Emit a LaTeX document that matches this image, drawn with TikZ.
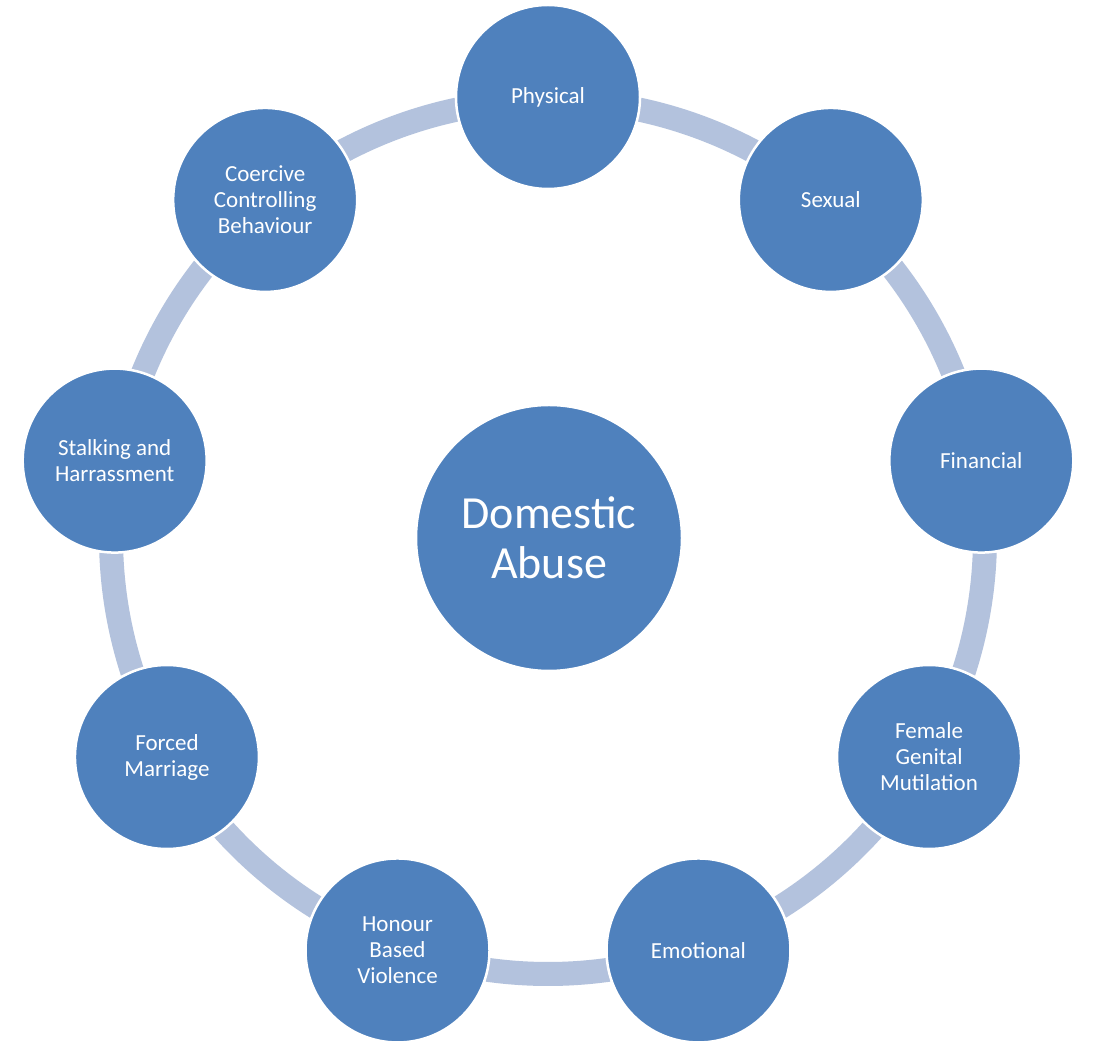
\documentclass[tikz,border=0pt]{standalone}
\usepackage{fontspec}
\setmainfont{Carlito}
\definecolor{blu}{HTML}{4F81BD}
\definecolor{connc}{RGB}{179,194,221}
\begin{document}
\begin{tikzpicture}[x=1pt,y=1pt,
  item/.style={circle,fill=blu,draw=white,line width=2.5pt,minimum size=184pt,inner sep=0pt,
    text=white,align=center,font=\fontsize{23}{26}\selectfont},
  hub/.style={circle,fill=blu,draw=white,line width=2.5pt,minimum size=266pt,inner sep=0pt,
    text=white,align=center,font=\fontsize{46}{50}\selectfont},
  link/.style={draw=connc,line width=24pt,preaction={draw=white,line width=27pt}}]
\useasboundingbox (0,0) rectangle (1100,1055);
\coordinate (o) at (548,518);
\foreach \a in {90,50,...,-230}
  \draw[link] ([shift={(\a-12:437)}]o) arc[start angle=\a-12, end angle=\a-28, radius=437];
\node[hub] (c) at (549,517) {Domestic\\Abuse};
\node[item] (phys) at ([shift={(90:440)}]o) {Physical};
\node[item] (sex) at ([shift={(50:440)}]o) {Sexual};
\node[item] (fin) at ([shift={(10:440)}]o) {Financial};
\node[item] (fgm) at ([shift={(-30:440)}]o) {Female\\Genital\\Mutilation};
\node[item] (emo) at ([shift={(-70:440)}]o) {Emotional};
\node[item] (hbv) at ([shift={(-110:440)}]o) {Honour\\Based\\Violence};
\node[item] (fm) at ([shift={(-150:440)}]o) {Forced\\Marriage};
\node[item] (stalk) at ([shift={(170:440)}]o) {Stalking and\\Harrassment};
\node[item] (ccb) at ([shift={(130:440)}]o) {Coercive\\Controlling\\Behaviour};
\end{tikzpicture}
\end{document}
